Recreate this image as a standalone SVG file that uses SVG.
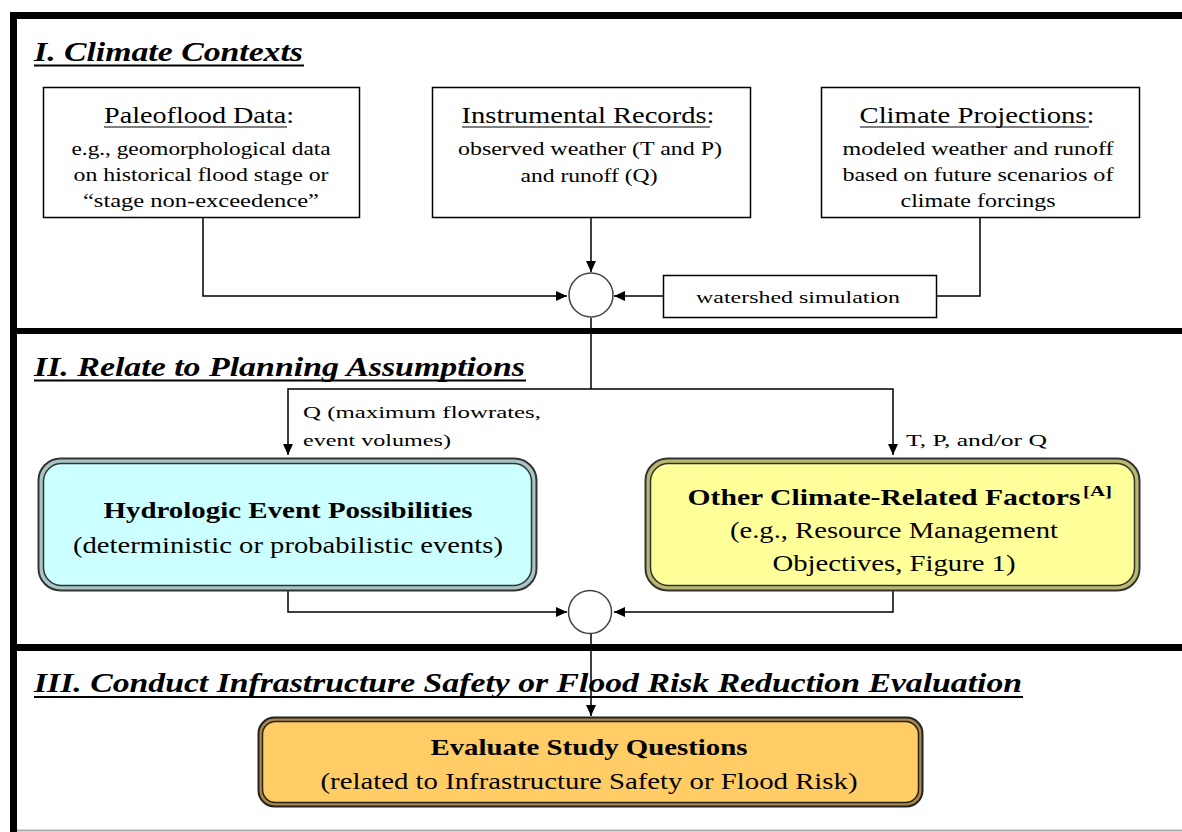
<svg xmlns="http://www.w3.org/2000/svg" width="1182" height="832" viewBox="0 0 1182 832">
<defs>
<marker id="arr" markerUnits="userSpaceOnUse" markerWidth="12" markerHeight="10" refX="11" refY="5" orient="auto">
<path d="M0,0 L11,5 L0,10 z" fill="#000"/>
</marker>
<style>
.frame{stroke:#000;fill:none}
.title{font-family:"Liberation Serif","Times New Roman",Tinos,serif;font-weight:bold;font-style:italic;font-size:27px;fill:#000}
.ul{stroke:#000;stroke-width:2}
.box{fill:#fff;stroke:#000;stroke-width:1.5}
.hd{font-family:"Liberation Serif","Times New Roman",Tinos,serif;font-size:23px;fill:#000;text-anchor:middle}
.bd{font-family:"Liberation Serif","Times New Roman",Tinos,serif;font-size:18px;fill:#000;text-anchor:middle}
.lbl{font-family:"Liberation Serif","Times New Roman",Tinos,serif;font-size:17px;fill:#000}
.big{font-family:"Liberation Serif","Times New Roman",Tinos,serif;font-size:23px;fill:#000;text-anchor:middle}
.sup{font-family:"Liberation Serif","Times New Roman",Tinos,serif;font-size:15px;font-weight:bold;fill:#000;text-anchor:start}
.bold{font-weight:bold}
.conn{stroke:#000;stroke-width:1.5;fill:none}
.circ{fill:#fff;stroke:#444;stroke-width:1.5}
</style>
</defs>
<rect x="0" y="0" width="1182" height="832" fill="#fff"/>
<g id="frame">
<line class="frame" x1="13.5" y1="12" x2="13.5" y2="832" stroke-width="7"/>
<line class="frame" x1="10" y1="15.5" x2="1182" y2="15.5" stroke-width="7"/>
<line class="frame" x1="10" y1="331" x2="1182" y2="331" stroke-width="6"/>
<line class="frame" x1="10" y1="647.5" x2="1182" y2="647.5" stroke-width="7"/>
<line x1="17" y1="830.5" x2="1182" y2="830.5" stroke="#aaa" stroke-width="2"/>
</g>
<g id="section-titles">
<text class="title" x="34" y="61" textLength="269" lengthAdjust="spacingAndGlyphs">I. Climate Contexts</text>
<line class="ul" x1="34" y1="65.5" x2="304" y2="65.5"/>
<text class="title" x="34" y="376" textLength="491" lengthAdjust="spacingAndGlyphs">II. Relate to Planning Assumptions</text>
<line class="ul" x1="34" y1="380.5" x2="526" y2="380.5"/>
<text class="title" x="34" y="692" textLength="988" lengthAdjust="spacingAndGlyphs">III. Conduct Infrastructure Safety or Flood Risk Reduction Evaluation</text>
<line class="ul" x1="34" y1="697" x2="1023" y2="697"/>
</g>
<g id="connectors">
<polyline class="conn" points="203,218 203,296 567,296" marker-end="url(#arr)"/>
<line class="conn" x1="591" y1="218" x2="591" y2="272" marker-end="url(#arr)"/>
<polyline class="conn" points="980,218 980,296 937,296"/>
<line class="conn" x1="663" y1="296" x2="614" y2="296" marker-end="url(#arr)"/>
<polyline class="conn" points="591,318 591,389"/>
<polyline class="conn" points="591,389 288,389 288,455" marker-end="url(#arr)"/>
<polyline class="conn" points="591,389 893,389 893,455" marker-end="url(#arr)"/>
<polyline class="conn" points="288,591 288,612 567,612" marker-end="url(#arr)"/>
<polyline class="conn" points="893,591 893,612 614,612" marker-end="url(#arr)"/>
<line class="conn" x1="591" y1="634" x2="591" y2="716" marker-end="url(#arr)"/>
</g>
<g id="paleoflood">
<rect class="box" x="43.5" y="87.5" width="316" height="130"/>
<text class="hd" x="199" y="123" textLength="190" lengthAdjust="spacingAndGlyphs">Paleoflood Data:</text>
<line x1="104" y1="127" x2="287" y2="127" stroke="#000" stroke-width="1.2"/>
<text class="bd" x="201" y="155" textLength="259" lengthAdjust="spacingAndGlyphs">e.g., geomorphological data</text>
<text class="bd" x="201" y="181" textLength="255" lengthAdjust="spacingAndGlyphs">on historical flood stage or</text>
<text class="bd" x="201" y="207" textLength="236" lengthAdjust="spacingAndGlyphs">“stage non-exceedence”</text>
</g>
<g id="instrumental">
<rect class="box" x="432.5" y="87.5" width="318" height="130"/>
<text class="hd" x="588" y="123" textLength="253" lengthAdjust="spacingAndGlyphs">Instrumental Records:</text>
<line x1="462" y1="127" x2="710" y2="127" stroke="#000" stroke-width="1.2"/>
<text class="bd" x="590" y="155" textLength="264" lengthAdjust="spacingAndGlyphs">observed weather (T and P)</text>
<text class="bd" x="589" y="182" textLength="137" lengthAdjust="spacingAndGlyphs">and runoff (Q)</text>
</g>
<g id="projections">
<rect class="box" x="821.5" y="87.5" width="318" height="130"/>
<text class="hd" x="977" y="123" textLength="235" lengthAdjust="spacingAndGlyphs">Climate Projections:</text>
<line x1="860" y1="127" x2="1089" y2="127" stroke="#000" stroke-width="1.2"/>
<text class="bd" x="978" y="155" textLength="271" lengthAdjust="spacingAndGlyphs">modeled weather and runoff</text>
<text class="bd" x="978" y="181" textLength="271" lengthAdjust="spacingAndGlyphs">based on future scenarios of</text>
<text class="bd" x="978" y="207" textLength="155" lengthAdjust="spacingAndGlyphs">climate forcings</text>
</g>
<g id="junction1">
<circle class="circ" cx="591" cy="295" r="22"/>
</g>
<g id="watershed">
<rect class="box" x="663.5" y="275.5" width="273" height="42"/>
<text class="lbl" x="696" y="303" font-size="18" textLength="204" lengthAdjust="spacingAndGlyphs">watershed simulation</text>
</g>
<g id="labels">
<text class="lbl" x="303" y="418" textLength="238" lengthAdjust="spacingAndGlyphs">Q  (maximum flowrates,</text>
<text class="lbl" x="303" y="446" textLength="148" lengthAdjust="spacingAndGlyphs">event volumes)</text>
<text class="lbl" x="906" y="446" textLength="141" lengthAdjust="spacingAndGlyphs">T, P, and/or Q</text>
</g>
<g id="hydrologic">
<rect x="38.5" y="458.5" width="498" height="132" rx="22" fill="#a8c4c4" stroke="#333" stroke-width="2"/>
<rect x="43.5" y="463.5" width="488" height="122" rx="18" fill="#ccffff" stroke="#333" stroke-width="1.5"/>
<text class="big bold" x="288" y="518" textLength="369" lengthAdjust="spacingAndGlyphs">Hydrologic Event Possibilities</text>
<text class="big" x="288" y="553" textLength="430" lengthAdjust="spacingAndGlyphs">(deterministic or probabilistic events)</text>
</g>
<g id="other">
<rect x="645.5" y="458.5" width="494" height="132" rx="22" fill="#b8b870" stroke="#333" stroke-width="2"/>
<rect x="650.5" y="463.5" width="484" height="122" rx="18" fill="#ffff99" stroke="#333" stroke-width="1.5"/>
<text class="big bold" x="884" y="505" textLength="393" lengthAdjust="spacingAndGlyphs">Other Climate-Related Factors</text>
<text class="sup" x="1083" y="496" textLength="29" lengthAdjust="spacingAndGlyphs">[A]</text>
<text class="big" x="894" y="538" textLength="328" lengthAdjust="spacingAndGlyphs">(e.g., Resource Management</text>
<text class="big" x="894" y="571" textLength="243" lengthAdjust="spacingAndGlyphs">Objectives, Figure 1)</text>
</g>
<g id="junction2">
<circle class="circ" cx="590" cy="612" r="21.5"/>
</g>
<g id="evaluate">
<rect x="258.5" y="717.5" width="664" height="89" rx="16" fill="#aa8844" stroke="#222" stroke-width="2"/>
<rect x="262.5" y="721.5" width="656" height="81" rx="13" fill="#ffcc66" stroke="#222" stroke-width="1.5"/>
<text class="big bold" x="589" y="755" textLength="317" lengthAdjust="spacingAndGlyphs">Evaluate Study Questions</text>
<text class="big" x="589" y="789" textLength="537" lengthAdjust="spacingAndGlyphs">(related to Infrastructure Safety or Flood Risk)</text>
</g>
</svg>
